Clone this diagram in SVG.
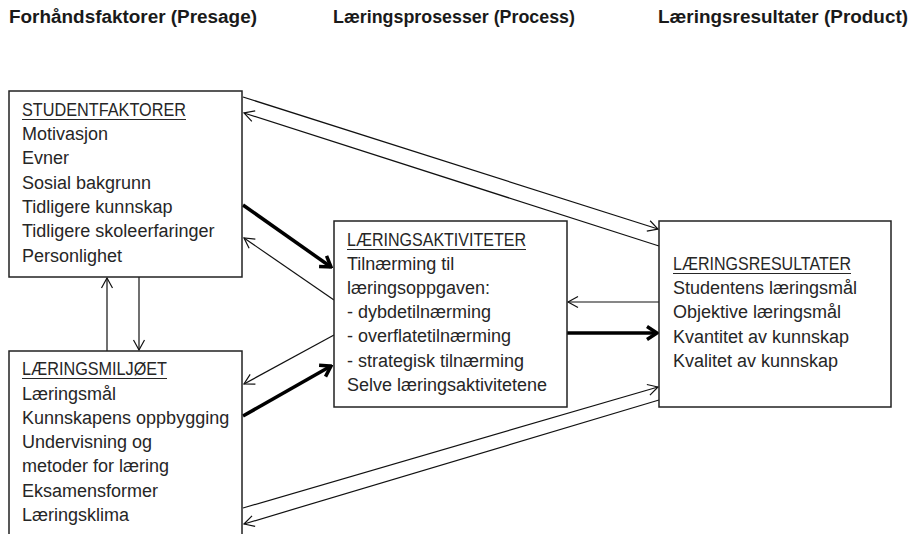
<svg xmlns="http://www.w3.org/2000/svg" width="919" height="534" viewBox="0 0 919 534">
<style>
.title{font-family:"Liberation Sans",Arial,sans-serif;font-weight:bold;font-size:18px;fill:#1a1a1a}
.t{font-family:"Liberation Sans",Arial,sans-serif;font-size:18px;fill:#262626}
.box{fill:#fff;stroke:#222;stroke-width:1.5}
.ul{stroke:#262626;stroke-width:1.2}
.thin{stroke:#111;stroke-width:1.2;fill:none}
.thick{stroke:#000;stroke-width:3.5;fill:none}
</style>
<defs>
<marker id="aThin" markerUnits="userSpaceOnUse" viewBox="-12 -8 14 16" refX="0" refY="0" markerWidth="14" markerHeight="16" orient="auto">
<path d="M-10,-5.5 L0,0 L-10,5.5" fill="none" stroke="#111" stroke-width="1.2"/>
</marker>
<marker id="aThick" markerUnits="userSpaceOnUse" viewBox="-14 -10 16 20" refX="0" refY="0" markerWidth="16" markerHeight="20" orient="auto">
<path d="M-10,-6.5 L0,0 L-10,6.5" fill="none" stroke="#000" stroke-width="3.5" stroke-linejoin="miter"/>
</marker>
</defs>
<rect width="919" height="534" fill="#fff"/>
<g id="titles">
<text class="title" x="9" y="23" textLength="248" lengthAdjust="spacingAndGlyphs">Forhåndsfaktorer (Presage)</text>
<text class="title" x="333" y="23" textLength="242" lengthAdjust="spacingAndGlyphs">Læringsprosesser (Process)</text>
<text class="title" x="658" y="23" textLength="250" lengthAdjust="spacingAndGlyphs">Læringsresultater (Product)</text>
</g>
<g id="connectors">
<line class="thin" x1="243" y1="97" x2="658" y2="229" marker-end="url(#aThin)"/>
<line class="thin" x1="659" y1="246" x2="244" y2="113" marker-end="url(#aThin)"/>
<line class="thick" x1="243" y1="205" x2="331" y2="267" marker-end="url(#aThick)"/>
<line class="thin" x1="334" y1="300" x2="244" y2="238" marker-end="url(#aThin)"/>
<line class="thin" x1="334" y1="335" x2="244" y2="384" marker-end="url(#aThin)"/>
<line class="thick" x1="243" y1="416" x2="331" y2="366" marker-end="url(#aThick)"/>
<line class="thin" x1="659" y1="302" x2="568" y2="302" marker-end="url(#aThin)"/>
<line class="thick" x1="567" y1="333" x2="657" y2="333" marker-end="url(#aThick)"/>
<line class="thin" x1="243" y1="508" x2="658" y2="387" marker-end="url(#aThin)"/>
<line class="thin" x1="659" y1="400" x2="244" y2="524" marker-end="url(#aThin)"/>
<line class="thin" x1="107" y1="351" x2="107" y2="278" marker-end="url(#aThin)"/>
<line class="thin" x1="139" y1="277" x2="139" y2="350" marker-end="url(#aThin)"/>
</g>
<g id="studentfaktorer">
<rect class="box" x="9" y="91" width="233" height="186"/>
<text class="t" x="22" y="116" textLength="164" lengthAdjust="spacingAndGlyphs">STUDENTFAKTORER</text>
<line class="ul" x1="22" y1="119.5" x2="186" y2="119.5"/>
<text class="t" x="22" y="140">Motivasjon</text>
<text class="t" x="22" y="164">Evner</text>
<text class="t" x="22" y="189">Sosial bakgrunn</text>
<text class="t" x="22" y="213">Tidligere kunnskap</text>
<text class="t" x="22" y="237">Tidligere skoleerfaringer</text>
<text class="t" x="22" y="262">Personlighet</text>
</g>
<g id="laeringsmiljoet">
<rect class="box" x="9" y="351" width="233" height="195"/>
<text class="t" x="22" y="375" textLength="145" lengthAdjust="spacingAndGlyphs">LÆRINGSMILJØET</text>
<line class="ul" x1="22" y1="378.5" x2="167" y2="378.5"/>
<text class="t" x="22" y="400">Læringsmål</text>
<text class="t" x="22" y="424">Kunnskapens oppbygging</text>
<text class="t" x="22" y="448">Undervisning og</text>
<text class="t" x="22" y="472">metoder for læring</text>
<text class="t" x="22" y="497">Eksamensformer</text>
<text class="t" x="22" y="521">Læringsklima</text>
</g>
<g id="laeringsaktiviteter">
<rect class="box" x="334" y="221" width="233" height="186"/>
<text class="t" x="347" y="246" textLength="179" lengthAdjust="spacingAndGlyphs">LÆRINGSAKTIVITETER</text>
<line class="ul" x1="347" y1="249.5" x2="526" y2="249.5"/>
<text class="t" x="347" y="270">Tilnærming til</text>
<text class="t" x="347" y="294">læringsoppgaven:</text>
<text class="t" x="347" y="318">- dybdetilnærming</text>
<text class="t" x="347" y="342">- overflatetilnærming</text>
<text class="t" x="347" y="367">- strategisk tilnærming</text>
<text class="t" x="347" y="391">Selve læringsaktivitetene</text>
</g>
<g id="laeringsresultater">
<rect class="box" x="659" y="221" width="232" height="186"/>
<text class="t" x="673" y="270" textLength="178" lengthAdjust="spacingAndGlyphs">LÆRINGSRESULTATER</text>
<line class="ul" x1="673" y1="273.5" x2="851" y2="273.5"/>
<text class="t" x="673" y="294">Studentens læringsmål</text>
<text class="t" x="673" y="318">Objektive læringsmål</text>
<text class="t" x="673" y="343">Kvantitet av kunnskap</text>
<text class="t" x="673" y="367">Kvalitet av kunnskap</text>
</g>
</svg>
